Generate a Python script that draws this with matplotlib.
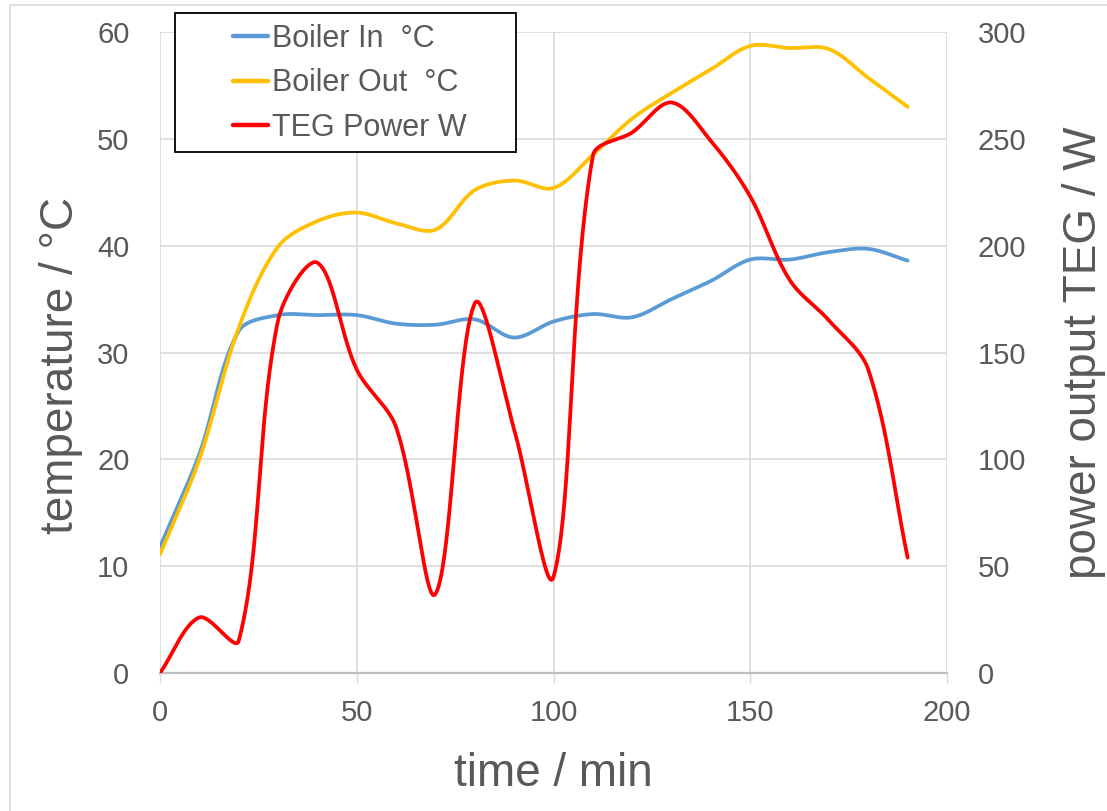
import matplotlib
matplotlib.use('Agg')
import matplotlib.pyplot as plt
import numpy as np
from matplotlib.patches import Rectangle

# readings every 10 min
time_min = [0, 10, 20, 30, 40, 50, 60, 70, 80, 90, 100,
            110, 120, 130, 140, 150, 160, 170, 180, 190]
boiler_in = [11.8, 20.5, 32.0, 33.5, 33.5, 33.5, 32.7, 32.6, 33.1, 31.4, 32.9,
             33.6, 33.3, 35.0, 36.7, 38.7, 38.7, 39.4, 39.7, 38.6]
boiler_out = [11.1, 20.0, 32.3, 39.9, 42.3, 43.1, 42.1, 41.5, 45.2, 46.1, 45.4,
              48.5, 51.9, 54.3, 56.5, 58.7, 58.5, 58.4, 55.7, 53.0]
teg_power = [0, 26, 15, 165, 192, 142, 115, 37, 173, 114, 45,
             242, 253, 267, 249, 223, 184, 165, 142, 54]

W, H = 1107, 811
grey = '#595959'
font = ['Liberation Sans', 'DejaVu Sans']
plt.rcParams['font.family'] = font


def smooth(x, y, sx, sy, n=40):
    # Excel-like smoothed line: cubic Bezier, tangents weighted by segment length
    p = np.column_stack([np.asarray(x, float) * sx, np.asarray(y, float) * sy])
    m = len(p)
    cin = p.copy()
    cout = p.copy()
    for i in range(m):
        p0 = p[max(i - 1, 0)]
        p2 = p[min(i + 1, m - 1)]
        l01 = np.hypot(*(p[i] - p0))
        l12 = np.hypot(*(p2 - p[i]))
        tot = l01 + l12
        if tot == 0:
            continue
        d = p2 - p0
        cout[i] = p[i] + d * (l12 / tot) / 3
        cin[i] = p[i] - d * (l01 / tot) / 3
    s = np.linspace(0, 1, n)[:, None]
    out = [p[:1]]
    for i in range(m - 1):
        a, b, c, e = p[i], cout[i], cin[i + 1], p[i + 1]
        seg = (1 - s) ** 3 * a + 3 * (1 - s) ** 2 * s * b + 3 * (1 - s) * s ** 2 * c + s ** 3 * e
        out.append(seg[1:])
    out = np.vstack(out)
    return out[:, 0] / sx, out[:, 1] / sy


fig = plt.figure(figsize=(W / 100, H / 100), dpi=100)
ax = fig.add_axes([160 / W, 1 - 673 / H, 787 / W, 641 / H])
ax2 = ax.twinx()

# chart-area border
fig.patches.append(Rectangle((10 / W, -0.1), 1.2, 1 - 5 / H + 0.1, transform=fig.transFigure,
                             fill=False, edgecolor='#d9d9d9', lw=1.2))

# pixel scales so the smoothing works in screen space
sx = 787 / 200
sy_t = 641 / 60
sy_p = 641 / 300

xs, ys = smooth(time_min, boiler_in, sx, sy_t)
l1, = ax.plot(xs, ys, color='#5B9BD5', lw=2.7, solid_capstyle='round', label='Boiler In  °C')
xs, ys = smooth(time_min, boiler_out, sx, sy_t)
l2, = ax.plot(xs, ys, color='#FFC000', lw=2.7, solid_capstyle='round', label='Boiler Out  °C')
xs, ys = smooth(time_min, teg_power, sx, sy_p)
l3, = ax2.plot(xs, ys, color='#FF0000', lw=2.7, solid_capstyle='round', label='TEG Power W')

ax.set_xlim(0, 200)
ax.set_ylim(0, 60)
ax2.set_ylim(0, 300)
ax.set_xticks(range(0, 201, 50))
ax.set_yticks(range(0, 61, 10))
ax2.set_yticks(range(0, 301, 50))

ax.grid(True, color='#d9d9d9', lw=1.2)
ax.set_axisbelow(True)
for a in (ax, ax2):
    for s in a.spines.values():
        s.set_visible(False)
ax.spines['bottom'].set_visible(True)
ax.spines['bottom'].set_color('#bfbfbf')
ax.spines['bottom'].set_linewidth(1.6)

ax.tick_params(axis='x', length=7, width=1, color='#d9d9d9', labelsize=21, labelcolor=grey, pad=12)
ax.tick_params(axis='y', length=0, labelsize=21, labelcolor=grey, pad=22)
ax2.tick_params(axis='y', length=0, labelsize=21, labelcolor=grey, pad=22)

ax.set_xlabel('time / min', fontsize=33, color=grey, labelpad=18)
ax.set_ylabel('temperature / °C', fontsize=33, color=grey)
ax.yaxis.set_label_coords(-0.098, 0.48)
ax2.set_ylabel('power output TEG / W', fontsize=33, color=grey, labelpad=26)

# legend box (Excel-style, wide frame)
ax2.add_patch(Rectangle((175 / W, 1 - 152 / H), 341 / W, 139 / H, transform=fig.transFigure,
                        facecolor='white', edgecolor='black', lw=1.3, zorder=5, clip_on=False))
leg = ax2.legend(handles=[l1, l2, l3], loc='upper left',
                 bbox_to_anchor=(233 / W, 1 - 24 / H), bbox_transform=fig.transFigure,
                 fontsize=22, frameon=False, handlelength=1.15, handletextpad=0.12,
                 borderpad=0, labelspacing=0.47, borderaxespad=0)
for t in leg.get_texts():
    t.set_color(grey)
for h in leg.get_lines():
    h.set_linewidth(3.2)
leg.set_zorder(6)

fig.savefig('out.png', dpi=100)
